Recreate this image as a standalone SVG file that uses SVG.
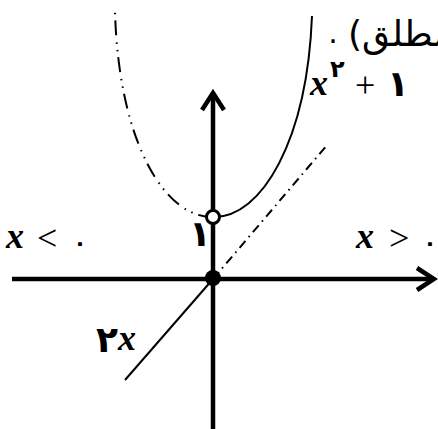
<svg xmlns="http://www.w3.org/2000/svg" width="438" height="429" viewBox="0 0 438 429">
<style>
.axis{stroke:#000;stroke-width:4.5;fill:none}
.solid{stroke:#000;stroke-width:2;fill:none}
.dd{stroke:#000;stroke-width:2;fill:none;stroke-dasharray:15 6 1.5 6 1.5 7}
.dot1{stroke:#000;stroke-width:2;fill:none;stroke-dasharray:9 5 1.5 5}
.vx{font-family:"Liberation Serif",serif;font-style:italic;font-weight:bold;font-size:36px;fill:#000}
.op{font-family:"Liberation Serif",serif;font-size:36px;fill:#000}
.fa{font-family:"DejaVu Sans",sans-serif;font-weight:bold;fill:#000}
</style>
<defs>
<marker id="arr" markerUnits="userSpaceOnUse" markerWidth="30" markerHeight="30" refX="20" refY="15" orient="auto" overflow="visible">
<path d="M3,4 L20,15 L3,26" fill="none" stroke="#000" stroke-width="4.5" stroke-linejoin="miter"/>
</marker>
</defs>
<rect width="438" height="429" fill="#fff"/>
<g id="connectors">
<line id="x-axis" class="axis" x1="12" y1="279" x2="434" y2="279" marker-end="url(#arr)"/>
<line id="y-axis" class="axis" x1="213" y1="429" x2="213" y2="93" marker-end="url(#arr)"/>
<path id="parabola-right" class="solid" d="M213,217 C262,218 307,140 312,16"/>
<path id="parabola-left" class="dd" d="M213,217 C166,218 119,145 115,12"/>
<line id="line-neg" class="solid" x1="213" y1="279" x2="125" y2="380"/>
<line id="line-pos" class="dot1" x1="213" y1="279" x2="328" y2="144"/>
</g>
<g id="open-point">
<circle cx="213" cy="217" r="6.5" fill="#fff" stroke="#000" stroke-width="3"/>
</g>
<g id="origin-point">
<circle cx="213" cy="278" r="8" fill="#000"/>
</g>
<g id="label-xneg">
<text class="vx" x="6" y="248">x</text>
<text class="op" x="37" y="250">&lt;</text>
<text class="fa" x="80" y="250" font-size="22" text-anchor="middle">۰</text>
</g>
<g id="label-xpos">
<text class="vx" x="356" y="248">x</text>
<text class="op" x="389" y="250">&gt;</text>
<text class="fa" x="430" y="250" font-size="22" text-anchor="middle">۰</text>
</g>
<g id="label-one">
<text class="fa" x="200" y="246" font-size="36" text-anchor="middle">۱</text>
</g>
<g id="label-parabola">
<text class="vx" x="310" y="95">x</text>
<text class="fa" x="330" y="77" font-size="24">۲</text>
<text class="op" x="355" y="97">+</text>
<text class="fa" x="398" y="96" font-size="36" text-anchor="middle">۱</text>
</g>
<g id="label-line">
<text class="fa" x="96" y="352" font-size="36">۲</text>
<text class="vx" x="118" y="350">x</text>
</g>
<g id="caption">
<text x="333" y="43" font-family="DejaVu Sans,sans-serif" font-size="30" text-anchor="middle">.</text>
<text x="348" y="46" font-family="DejaVu Sans,sans-serif" font-size="36" direction="rtl" text-anchor="end">مطلق)</text>
</g>
</svg>
